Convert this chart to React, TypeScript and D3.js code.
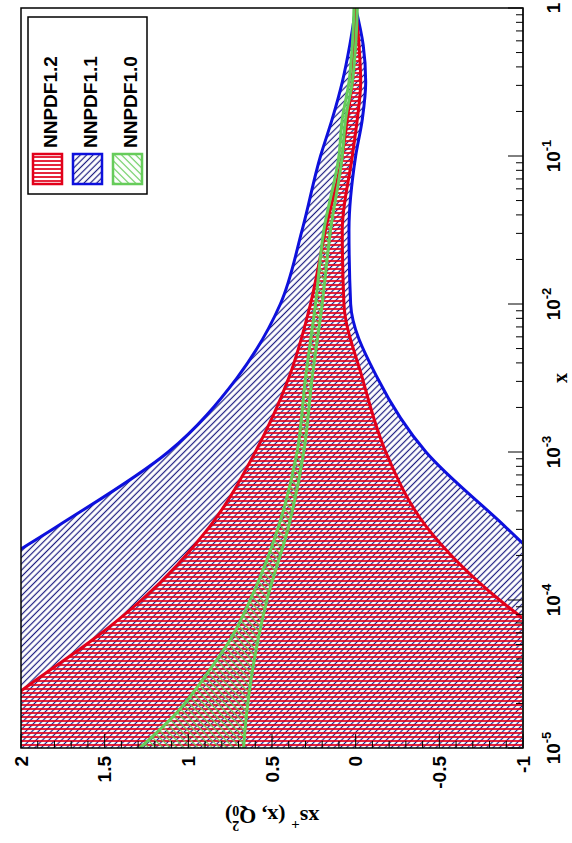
import React from 'react';
import * as d3 from 'd3';

// x grid (log scale) and band edges
const xValues = [1e-5, 1.78e-5, 3.16e-5, 5.62e-5, 1e-4, 3.16e-4, 1e-3, 3.16e-3, 1e-2, 3.16e-2, 0.1, 0.178, 0.316, 0.562, 1];
const nnpdf12Upper = [2.5, 2.17, 1.86, 1.55, 1.28, 0.87, 0.6, 0.4, 0.27, 0.18, 0.08, 0.05, 0.02, 0.01, 0.0];
const nnpdf12Lower = [-2.1, -1.77, -1.45, -1.15, -0.86, -0.42, -0.18, -0.04, 0.07, 0.08, 0.02, -0.01, -0.03, -0.02, 0.0];
const nnpdf11Upper = [4.0, 3.6, 3.2, 2.85, 2.5, 1.78, 1.12, 0.71, 0.45, 0.32, 0.21, 0.14, 0.08, 0.035, 0.0];
const nnpdf11Lower = [-2.3, -2.05, -1.8, -1.57, -1.35, -0.89, -0.42, -0.13, 0.03, 0.04, 0.0, -0.04, -0.06, -0.045, 0.0];
const nnpdf10Upper = [1.29, 1.06, 0.89, 0.74, 0.63, 0.46, 0.35, 0.3, 0.24, 0.19, 0.1, 0.08, 0.04, 0.02, 0.01];
const nnpdf10Lower = [0.67, 0.65, 0.62, 0.58, 0.53, 0.4, 0.31, 0.26, 0.2, 0.15, 0.08, 0.06, 0.02, 0.0, -0.01];

const seriesNames = ['NNPDF1.2', 'NNPDF1.1', 'NNPDF1.0'];
const yTickValues = [-1, -0.5, 0, 0.5, 1, 1.5, 2];
const yTickLabels = ['-1', '-0.5', '0', '0.5', '1', '1.5', '2'];
const xDecadeExponents = [-5, -4, -3, -2, -1, 0];
const xTitle = 'x';

type Pt = { x: number; up: number; lo: number };

export default function App() {
  const W = 572;
  const H = 843;
  // original (unrotated) frame: u = horizontal, v = vertical
  const U0 = 95, U1 = 835, V0 = 21, V1 = 523;
  const xScale = d3.scaleLog().domain([1e-5, 1]).range([U0, U1]);
  const yScale = d3.scaleLinear().domain([-1, 2]).range([V1, V0]);

  const mk = (up: number[], lo: number[]): Pt[] => xValues.map((x, i) => ({ x, up: up[i], lo: lo[i] }));
  const area = d3.area<Pt>().x(d => xScale(d.x)).y0(d => yScale(d.lo)).y1(d => yScale(d.up)).curve(d3.curveMonotoneX);
  const lineUp = d3.line<Pt>().x(d => xScale(d.x)).y(d => yScale(d.up)).curve(d3.curveMonotoneX);
  const lineLo = d3.line<Pt>().x(d => xScale(d.x)).y(d => yScale(d.lo)).curve(d3.curveMonotoneX);

  const bands = [
    { name: seriesNames[0], data: mk(nnpdf12Upper, nnpdf12Lower), edge: '#e2001a', pat: 'url(#pRed)' },
    { name: seriesNames[1], data: mk(nnpdf11Upper, nnpdf11Lower), edge: '#0d10dd', pat: 'url(#pBlue)' },
    { name: seriesNames[2], data: mk(nnpdf10Upper, nnpdf10Lower), edge: '#66cc5a', pat: 'url(#pGreen)' },
  ];
  const drawOrder = [bands[1], bands[0], bands[2]];

  const yMinor = d3.range(-10, 21).map(i => i / 10);
  const xTicksAll = xScale.ticks();
  const isDecade = (v: number) => Math.abs(Math.log10(v) - Math.round(Math.log10(v))) < 1e-6;

  const tickFont = '"Liberation Sans", Arial, sans-serif';
  const titleFont = '"Liberation Serif", "Times New Roman", serif';

  return (
    <svg width={W} height={H} style={{ position: 'absolute', left: 0, top: 0, background: '#fff' }}>
      <rect x={0} y={0} width={W} height={H} fill="#fff" />
      <g transform={`translate(0,${H}) rotate(-90)`}>
        <defs>
          <clipPath id="frameClip">
            <rect x={U0} y={V0} width={U1 - U0} height={V1 - V0} />
          </clipPath>
          <pattern id="pRed" patternUnits="userSpaceOnUse" width={4} height={4}>
            <line x1={2} y1={0} x2={2} y2={4} stroke="#e2001a" strokeWidth={1.7} />
          </pattern>
          <pattern id="pBlue" patternUnits="userSpaceOnUse" width={4.5} height={4.5} patternTransform="rotate(45)">
            <line x1={0} y1={2.25} x2={4.5} y2={2.25} stroke="#1a1a80" strokeWidth={1.2} />
          </pattern>
          <pattern id="pGreen" patternUnits="userSpaceOnUse" width={5} height={5} patternTransform="rotate(-45)">
            <line x1={0} y1={2.5} x2={5} y2={2.5} stroke="#66cc5a" strokeWidth={1.2} />
          </pattern>
        </defs>

        <g clipPath="url(#frameClip)">
          {drawOrder.map(b => (
            <path key={'a' + b.name} d={area(b.data) || ''} fill={b.pat} stroke="none" />
          ))}
          {drawOrder.map(b => (
            <g key={'l' + b.name}>
              <path d={lineUp(b.data) || ''} fill="none" stroke={b.edge} strokeWidth={3} />
              <path d={lineLo(b.data) || ''} fill="none" stroke={b.edge} strokeWidth={3} />
            </g>
          ))}
        </g>

        {/* frame */}
        <rect x={U0} y={V0} width={U1 - U0} height={V1 - V0} fill="none" stroke="#000" strokeWidth={1.5} />
        <line x1={U0} y1={V1} x2={U1} y2={V1} stroke="#222" strokeWidth={2} />

        {/* y axis ticks (left in original) */}
        {yMinor.map(v => {
          const major = Math.abs(v * 2 - Math.round(v * 2)) < 1e-6;
          return (
            <line key={'yt' + v} x1={U0} x2={U0 + (major ? 14 : 7)} y1={yScale(v)} y2={yScale(v)} stroke="#000" strokeWidth={1} />
          );
        })}
        {yTickValues.map((v, i) => (
          <text key={'yl' + v} x={U0 - 8} y={yScale(v)} textAnchor="end" dominantBaseline="central"
            fontFamily={tickFont} fontWeight="bold" fontSize={19} fill="#000">{yTickLabels[i]}</text>
        ))}

        {/* x axis ticks (bottom in original) */}
        {xTicksAll.map(v => (
          <line key={'xt' + v} x1={xScale(v)} x2={xScale(v)} y1={V1} y2={V1 - (isDecade(v) ? 15 : 7)} stroke="#000" strokeWidth={1} />
        ))}
        {xDecadeExponents.map(e => (
          <text key={'xl' + e} x={xScale(Math.pow(10, e))} y={V1 + 37} textAnchor="middle"
            fontFamily={tickFont} fontWeight="bold" fontSize={19} fill="#000">
            {e === 0 ? '1' : (
              <>
                10<tspan dy={-9} fontSize={13}>{String(e)}</tspan>
              </>
            )}
          </text>
        ))}

        {/* axis titles */}
        <text x={(U0 + U1) / 2} y={V1 + 44} textAnchor="middle" fontFamily={titleFont} fontWeight="bold" fontSize={20} fill="#000">{xTitle}</text>
        <text transform={`translate(26,${(V0 + V1) / 2}) rotate(-90)`} textAnchor="middle" dominantBaseline="central"
          fontFamily={titleFont} fontWeight="bold" fontSize={22} fill="#000">
          xs<tspan dy={-8} fontSize={15}>+</tspan><tspan dy={8}> (x, Q</tspan><tspan dy={6} fontSize={14}>0</tspan><tspan dx={-7} dy={-15} fontSize={14}>2</tspan><tspan dy={9}>)</tspan>
        </text>

        {/* legend */}
        <rect x={649} y={28} width={177} height={119} fill="#fff" stroke="#000" strokeWidth={1.5} />
        {bands.map((b, i) => {
          const cv = 47.5 + i * 40;
          return (
            <g key={'lg' + b.name}>
              <rect x={659} y={cv - 14.5} width={30} height={29} fill="#fff" />
              <rect x={659} y={cv - 14.5} width={30} height={29} fill={b.pat} stroke={b.edge} strokeWidth={2.5} />
              <text x={695} y={cv + 9.5} fontFamily={tickFont} fontWeight="bold" fontSize={19} fill="#000">{b.name}</text>
            </g>
          );
        })}
      </g>
    </svg>
  );
}
